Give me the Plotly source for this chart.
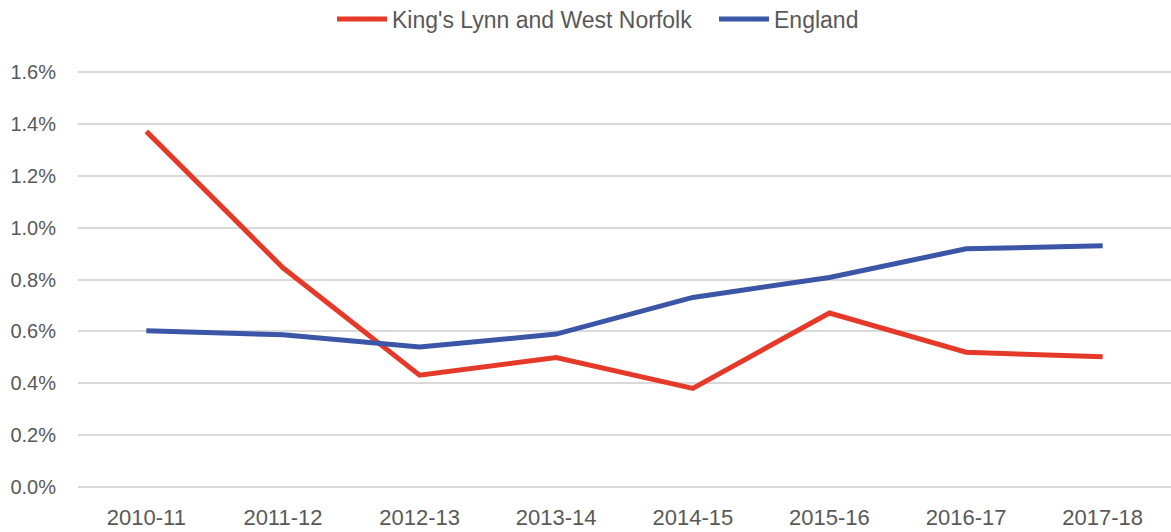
import plotly.graph_objects as go

years = ["2010-11", "2011-12", "2012-13", "2013-14", "2014-15", "2015-16", "2016-17", "2017-18"]
kings_lynn = [1.37, 0.845, 0.432, 0.50, 0.381, 0.671, 0.52, 0.503]
england = [0.603, 0.587, 0.540, 0.590, 0.731, 0.808, 0.918, 0.930]
y_ticks = [0.0, 0.2, 0.4, 0.6, 0.8, 1.0, 1.2, 1.4, 1.6]

fig = go.Figure()
fig.add_trace(go.Scatter(x=years, y=kings_lynn, mode="lines", name="King's Lynn and West Norfolk",
                         line=dict(color="#E53A2A", width=5)))
fig.add_trace(go.Scatter(x=years, y=england, mode="lines", name="England",
                         line=dict(color="#3B56A6", width=5)))

fig.update_layout(
    width=1171, height=532,
    margin=dict(l=78, r=0, t=69, b=42, autoexpand=False),
    paper_bgcolor="white", plot_bgcolor="white",
    font=dict(family="Liberation Sans, sans-serif", size=20, color="#595959"),
    legend=dict(orientation="h", x=0.2324, xanchor="left", y=1 - 19 / 532, yref="container",
                yanchor="middle", font=dict(size=23, color="#595959"), itemwidth=50,
                entrywidth=317, entrywidthmode="pixels", tracegroupgap=0),
    xaxis=dict(type="category", range=[-0.5, 7.5], showgrid=False, showline=False, ticks="",
               tickfont=dict(size=22), ticklabelstandoff=12, automargin=False),
    yaxis=dict(range=[-0.01, 1.61], tickvals=y_ticks, ticktext=[f"{v:.1f}%" for v in y_ticks],
               showgrid=True, gridcolor="#D9D9D9", gridwidth=2, zeroline=False,
               ticks="", ticklen=0, tickfont=dict(size=20), ticklabelstandoff=21, automargin=False),
    showlegend=True,
)

fig.write_html("out.html", config={"displayModeBar": False},
               post_script="document.body.style.margin='0';")
